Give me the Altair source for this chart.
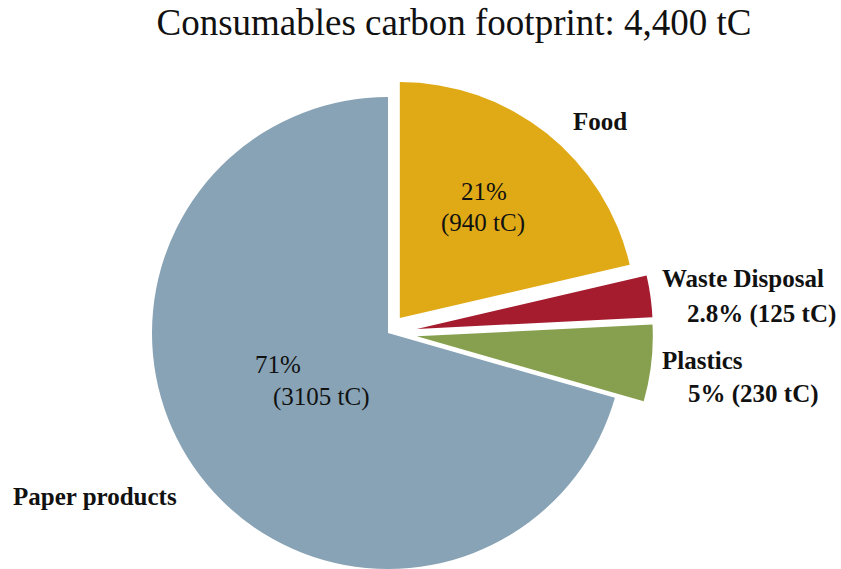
import altair as alt
import pandas as pd

# Consumables carbon footprint by category (tonnes of carbon)
categories = ["Food", "Waste Disposal", "Plastics", "Paper products"]
tonnes = [940, 125, 230, 3105]
share_text = ["21%", "2.8%", "5%", "71%"]
colors = ["#E0AA16", "#A51C2E", "#87A04F", "#87A3B5"]

# Pull-out distance (px) of each wedge from the common centre
explode = [19, 29, 29, 0]

W, H = 841, 569
CX, CY, R = 388, 333, 236
FONT = "Liberation Serif"

slices = pd.DataFrame({
    "category": categories,
    "tonnes": tonnes,
    "rank": list(range(len(categories))),
    "explode": explode,
})

pie = (
    alt.Chart(slices)
    .transform_joinaggregate(total="sum(tonnes)")
    .transform_window(cum="sum(tonnes)", sort=[alt.SortField("rank")], frame=[None, 0])
    .transform_calculate(mid="2*PI*(datum.cum - datum.tonnes/2)/datum.total")
    .transform_calculate(
        cx=f"{CX} + datum.explode*sin(datum.mid)",
        cy=f"{CY} - datum.explode*cos(datum.mid)",
    )
    .mark_arc(outerRadius=R, strokeWidth=0)
    .encode(
        theta=alt.Theta("tonnes:Q", stack=True),
        order=alt.Order("rank:Q"),
        x=alt.X("cx:Q", scale=None, axis=None),
        y=alt.Y("cy:Q", scale=None, axis=None),
        color=alt.Color(
            "category:N",
            scale=alt.Scale(domain=categories, range=colors),
            legend=None,
        ),
    )
)

# Annotation text: outside names / amounts and inside shares
value_lbl = {c: f"({t} tC)" for c, t in zip(categories, tonnes)}
share = dict(zip(categories, share_text))

outer = pd.DataFrame({
    "text": [
        "Food",
        "Waste Disposal",
        f"{share['Waste Disposal']} {value_lbl['Waste Disposal']}",
        "Plastics",
        f"{share['Plastics']} {value_lbl['Plastics']}",
        "Paper products",
    ],
    "px": [573, 662, 687, 662, 688, 13],
    "py": [130, 287, 322, 369, 402, 505],
})

inner = pd.DataFrame({
    "text": [share["Food"], value_lbl["Food"], share["Paper products"], value_lbl["Paper products"]],
    "px": [461, 441, 255, 273],
    "py": [200, 231, 373, 405],
})


def text_layer(df, weight):
    return (
        alt.Chart(df)
        .mark_text(
            align="left", baseline="alphabetic", font=FONT, fontSize=25,
            fontWeight=weight, color="#111111",
        )
        .encode(
            x=alt.X("px:Q", scale=None, axis=None),
            y=alt.Y("py:Q", scale=None, axis=None),
            text="text:N",
        )
    )


title = (
    alt.Chart(pd.DataFrame({"t": ["Consumables carbon footprint: 4,400 tC"]}))
    .mark_text(align="center", baseline="alphabetic", font=FONT, fontSize=37, color="#111111")
    .encode(x=alt.value(454), y=alt.value(35), text="t:N")
)

chart = (
    alt.layer(pie, text_layer(outer, "bold"), text_layer(inner, "normal"), title)
    .properties(width=W, height=H, padding=0, autosize=alt.AutoSizeParams(type="none"), background="white")
    .configure_view(stroke=None)
)

chart.save("out.html", embed_options={"renderer": "svg", "actions": False})
